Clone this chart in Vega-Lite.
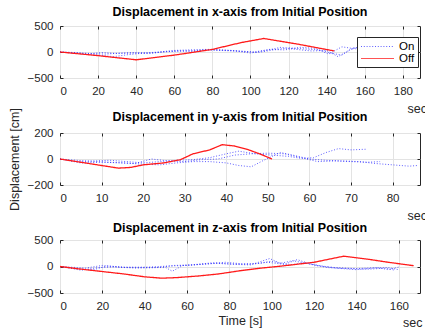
{
  "$schema": "https://vega.github.io/schema/vega-lite/v6.json",
  "padding": {"left": 7, "top": 5, "right": 0, "bottom": 0},
  "background": "white",
  "datasets": {
    "x_on": [
      {"t":0,"disp":0,"series":"On","trial":"A"},{"t":8,"disp":-10,"series":"On","trial":"A"},{"t":16,"disp":-30,"series":"On","trial":"A"},{"t":24,"disp":-40,"series":"On","trial":"A"},{"t":32,"disp":-20,"series":"On","trial":"A"},{"t":40,"disp":-10,"series":"On","trial":"A"},{"t":48,"disp":-20,"series":"On","trial":"A"},{"t":56,"disp":10,"series":"On","trial":"A"},{"t":64,"disp":20,"series":"On","trial":"A"},{"t":72,"disp":30,"series":"On","trial":"A"},{"t":80,"disp":40,"series":"On","trial":"A"},{"t":88,"disp":30,"series":"On","trial":"A"},{"t":96,"disp":10,"series":"On","trial":"A"},{"t":104,"disp":-10,"series":"On","trial":"A"},{"t":112,"disp":40,"series":"On","trial":"A"},{"t":120,"disp":80,"series":"On","trial":"A"},{"t":128,"disp":60,"series":"On","trial":"A"},{"t":136,"disp":40,"series":"On","trial":"A"},{"t":142,"disp":-20,"series":"On","trial":"A"},{"t":148,"disp":-60,"series":"On","trial":"A"},{"t":154,"disp":80,"series":"On","trial":"A"},{"t":160,"disp":100,"series":"On","trial":"A"},{"t":166,"disp":90,"series":"On","trial":"A"},
      {"t":0,"disp":0,"series":"On","trial":"B"},{"t":10,"disp":-20,"series":"On","trial":"B"},{"t":20,"disp":-60,"series":"On","trial":"B"},{"t":28,"disp":-90,"series":"On","trial":"B"},{"t":36,"disp":-50,"series":"On","trial":"B"},{"t":44,"disp":-20,"series":"On","trial":"B"},{"t":52,"disp":0,"series":"On","trial":"B"},{"t":60,"disp":30,"series":"On","trial":"B"},{"t":68,"disp":40,"series":"On","trial":"B"},{"t":76,"disp":50,"series":"On","trial":"B"},{"t":84,"disp":30,"series":"On","trial":"B"},{"t":92,"disp":20,"series":"On","trial":"B"},{"t":100,"disp":-20,"series":"On","trial":"B"},{"t":108,"disp":30,"series":"On","trial":"B"},{"t":116,"disp":90,"series":"On","trial":"B"},{"t":124,"disp":50,"series":"On","trial":"B"},{"t":132,"disp":20,"series":"On","trial":"B"},{"t":140,"disp":30,"series":"On","trial":"B"},{"t":146,"disp":-90,"series":"On","trial":"B"},{"t":152,"disp":40,"series":"On","trial":"B"},{"t":158,"disp":110,"series":"On","trial":"B"},
      {"t":0,"disp":0,"series":"On","trial":"C"},{"t":6,"disp":-20,"series":"On","trial":"C"},{"t":14,"disp":-40,"series":"On","trial":"C"},{"t":22,"disp":-10,"series":"On","trial":"C"},{"t":30,"disp":-30,"series":"On","trial":"C"},{"t":38,"disp":-20,"series":"On","trial":"C"},{"t":46,"disp":-30,"series":"On","trial":"C"},{"t":54,"disp":0,"series":"On","trial":"C"},{"t":62,"disp":20,"series":"On","trial":"C"},{"t":70,"disp":10,"series":"On","trial":"C"},{"t":78,"disp":50,"series":"On","trial":"C"},{"t":86,"disp":40,"series":"On","trial":"C"},{"t":94,"disp":20,"series":"On","trial":"C"},{"t":102,"disp":0,"series":"On","trial":"C"},{"t":110,"disp":50,"series":"On","trial":"C"},{"t":118,"disp":40,"series":"On","trial":"C"},{"t":126,"disp":90,"series":"On","trial":"C"},{"t":134,"disp":70,"series":"On","trial":"C"},{"t":141,"disp":-40,"series":"On","trial":"C"},{"t":148,"disp":100,"series":"On","trial":"C"},{"t":155,"disp":60,"series":"On","trial":"C"},{"t":162,"disp":120,"series":"On","trial":"C"}
    ],
    "x_off": [
      {"t":0,"disp":0,"series":"Off","trial":"R"},{"t":20,"disp":-70,"series":"Off","trial":"R"},{"t":40,"disp":-150,"series":"Off","trial":"R"},{"t":60,"disp":-60,"series":"Off","trial":"R"},{"t":80,"disp":50,"series":"Off","trial":"R"},{"t":95,"disp":180,"series":"Off","trial":"R"},{"t":107,"disp":260,"series":"Off","trial":"R"},{"t":125,"disp":150,"series":"Off","trial":"R"},{"t":144,"disp":20,"series":"Off","trial":"R"}
    ],
    "y_on": [
      {"t":0,"disp":0,"series":"On","trial":"A"},{"t":4,"disp":-20,"series":"On","trial":"A"},{"t":8,"disp":-15,"series":"On","trial":"A"},{"t":12,"disp":-10,"series":"On","trial":"A"},{"t":16,"disp":-20,"series":"On","trial":"A"},{"t":20,"disp":-30,"series":"On","trial":"A"},{"t":24,"disp":-20,"series":"On","trial":"A"},{"t":28,"disp":-10,"series":"On","trial":"A"},{"t":32,"disp":-5,"series":"On","trial":"A"},{"t":36,"disp":10,"series":"On","trial":"A"},{"t":40,"disp":40,"series":"On","trial":"A"},{"t":43,"disp":60,"series":"On","trial":"A"},{"t":47,"disp":40,"series":"On","trial":"A"},{"t":51,"disp":30,"series":"On","trial":"A"},{"t":55,"disp":20,"series":"On","trial":"A"},{"t":58,"disp":5,"series":"On","trial":"A"},{"t":61,"disp":10,"series":"On","trial":"A"},{"t":64,"disp":50,"series":"On","trial":"A"},{"t":67,"disp":80,"series":"On","trial":"A"},{"t":70,"disp":70,"series":"On","trial":"A"},{"t":73.5,"disp":75,"series":"On","trial":"A"},
      {"t":0,"disp":0,"series":"On","trial":"B"},{"t":5,"disp":-30,"series":"On","trial":"B"},{"t":10,"disp":-25,"series":"On","trial":"B"},{"t":15,"disp":-30,"series":"On","trial":"B"},{"t":20,"disp":-40,"series":"On","trial":"B"},{"t":24,"disp":-45,"series":"On","trial":"B"},{"t":28,"disp":-30,"series":"On","trial":"B"},{"t":32,"disp":-20,"series":"On","trial":"B"},{"t":36,"disp":-20,"series":"On","trial":"B"},{"t":40,"disp":-30,"series":"On","trial":"B"},{"t":43,"disp":-50,"series":"On","trial":"B"},{"t":46,"disp":-60,"series":"On","trial":"B"},{"t":49,"disp":-10,"series":"On","trial":"B"},{"t":53,"disp":50,"series":"On","trial":"B"},{"t":56,"disp":30,"series":"On","trial":"B"},{"t":60,"disp":0,"series":"On","trial":"B"},{"t":64,"disp":-10,"series":"On","trial":"B"},{"t":68,"disp":-15,"series":"On","trial":"B"},{"t":72,"disp":-20,"series":"On","trial":"B"},{"t":76,"disp":-35,"series":"On","trial":"B"},{"t":80,"disp":-45,"series":"On","trial":"B"},{"t":84,"disp":-55,"series":"On","trial":"B"},{"t":86,"disp":-50,"series":"On","trial":"B"},
      {"t":0,"disp":0,"series":"On","trial":"C"},{"t":6,"disp":-15,"series":"On","trial":"C"},{"t":12,"disp":-25,"series":"On","trial":"C"},{"t":18,"disp":-35,"series":"On","trial":"C"},{"t":22,"disp":0,"series":"On","trial":"C"},{"t":26,"disp":-15,"series":"On","trial":"C"},{"t":30,"disp":-20,"series":"On","trial":"C"},{"t":34,"disp":-5,"series":"On","trial":"C"},{"t":38,"disp":0,"series":"On","trial":"C"},{"t":42,"disp":30,"series":"On","trial":"C"},{"t":46,"disp":40,"series":"On","trial":"C"},{"t":50,"disp":45,"series":"On","trial":"C"},{"t":54,"disp":40,"series":"On","trial":"C"},{"t":58,"disp":10,"series":"On","trial":"C"},{"t":62,"disp":-20,"series":"On","trial":"C"},{"t":66,"disp":-15,"series":"On","trial":"C"},{"t":70,"disp":-20,"series":"On","trial":"C"},{"t":74,"disp":-25,"series":"On","trial":"C"},{"t":77,"disp":-20,"series":"On","trial":"C"}
    ],
    "y_off": [
      {"t":0,"disp":0,"series":"Off","trial":"R"},{"t":5,"disp":-25,"series":"Off","trial":"R"},{"t":10,"disp":-50,"series":"Off","trial":"R"},{"t":14,"disp":-70,"series":"Off","trial":"R"},{"t":17,"disp":-65,"series":"Off","trial":"R"},{"t":20,"disp":-45,"series":"Off","trial":"R"},{"t":25,"disp":-30,"series":"Off","trial":"R"},{"t":29,"disp":-5,"series":"Off","trial":"R"},{"t":32,"disp":40,"series":"Off","trial":"R"},{"t":36,"disp":70,"series":"Off","trial":"R"},{"t":39,"disp":110,"series":"Off","trial":"R"},{"t":42,"disp":100,"series":"Off","trial":"R"},{"t":45,"disp":75,"series":"Off","trial":"R"},{"t":48,"disp":40,"series":"Off","trial":"R"},{"t":51,"disp":0,"series":"Off","trial":"R"}
    ],
    "z_on": [
      {"t":0,"disp":0,"series":"On","trial":"A"},{"t":8,"disp":-40,"series":"On","trial":"A"},{"t":16,"disp":-60,"series":"On","trial":"A"},{"t":22,"disp":10,"series":"On","trial":"A"},{"t":30,"disp":-10,"series":"On","trial":"A"},{"t":40,"disp":-20,"series":"On","trial":"A"},{"t":50,"disp":-20,"series":"On","trial":"A"},{"t":53,"disp":-90,"series":"On","trial":"A"},{"t":58,"disp":20,"series":"On","trial":"A"},{"t":66,"disp":40,"series":"On","trial":"A"},{"t":74,"disp":60,"series":"On","trial":"A"},{"t":82,"disp":40,"series":"On","trial":"A"},{"t":90,"disp":30,"series":"On","trial":"A"},{"t":99,"disp":150,"series":"On","trial":"A"},{"t":104,"disp":60,"series":"On","trial":"A"},{"t":110,"disp":110,"series":"On","trial":"A"},{"t":116,"disp":60,"series":"On","trial":"A"},{"t":122,"disp":10,"series":"On","trial":"A"},{"t":130,"disp":-20,"series":"On","trial":"A"},{"t":140,"disp":-40,"series":"On","trial":"A"},{"t":150,"disp":-20,"series":"On","trial":"A"},{"t":155,"disp":-60,"series":"On","trial":"A"},{"t":160,"disp":-10,"series":"On","trial":"A"},
      {"t":0,"disp":0,"series":"On","trial":"B"},{"t":10,"disp":-70,"series":"On","trial":"B"},{"t":18,"disp":-20,"series":"On","trial":"B"},{"t":26,"disp":-10,"series":"On","trial":"B"},{"t":36,"disp":-30,"series":"On","trial":"B"},{"t":46,"disp":-20,"series":"On","trial":"B"},{"t":54,"disp":20,"series":"On","trial":"B"},{"t":62,"disp":30,"series":"On","trial":"B"},{"t":72,"disp":70,"series":"On","trial":"B"},{"t":80,"disp":50,"series":"On","trial":"B"},{"t":90,"disp":40,"series":"On","trial":"B"},{"t":98,"disp":80,"series":"On","trial":"B"},{"t":106,"disp":40,"series":"On","trial":"B"},{"t":112,"disp":130,"series":"On","trial":"B"},{"t":118,"disp":50,"series":"On","trial":"B"},{"t":126,"disp":-20,"series":"On","trial":"B"},{"t":136,"disp":-40,"series":"On","trial":"B"},{"t":146,"disp":-50,"series":"On","trial":"B"},{"t":154,"disp":-30,"series":"On","trial":"B"},{"t":158,"disp":-70,"series":"On","trial":"B"},
      {"t":0,"disp":0,"series":"On","trial":"C"},{"t":12,"disp":-30,"series":"On","trial":"C"},{"t":20,"disp":20,"series":"On","trial":"C"},{"t":30,"disp":-20,"series":"On","trial":"C"},{"t":42,"disp":-10,"series":"On","trial":"C"},{"t":52,"disp":10,"series":"On","trial":"C"},{"t":60,"disp":20,"series":"On","trial":"C"},{"t":70,"disp":50,"series":"On","trial":"C"},{"t":78,"disp":80,"series":"On","trial":"C"},{"t":86,"disp":50,"series":"On","trial":"C"},{"t":94,"disp":60,"series":"On","trial":"C"},{"t":100,"disp":100,"series":"On","trial":"C"},{"t":108,"disp":30,"series":"On","trial":"C"},{"t":116,"disp":70,"series":"On","trial":"C"},{"t":122,"disp":20,"series":"On","trial":"C"},{"t":130,"disp":-30,"series":"On","trial":"C"},{"t":140,"disp":-60,"series":"On","trial":"C"},{"t":148,"disp":-30,"series":"On","trial":"C"},{"t":155,"disp":-20,"series":"On","trial":"C"},{"t":160,"disp":-60,"series":"On","trial":"C"}
    ],
    "z_off": [
      {"t":0,"disp":0,"series":"Off","trial":"R"},{"t":10,"disp":-50,"series":"Off","trial":"R"},{"t":20,"disp":-95,"series":"Off","trial":"R"},{"t":30,"disp":-140,"series":"Off","trial":"R"},{"t":40,"disp":-195,"series":"Off","trial":"R"},{"t":48,"disp":-220,"series":"Off","trial":"R"},{"t":55,"disp":-210,"series":"Off","trial":"R"},{"t":65,"disp":-180,"series":"Off","trial":"R"},{"t":75,"disp":-140,"series":"Off","trial":"R"},{"t":85,"disp":-80,"series":"Off","trial":"R"},{"t":95,"disp":-30,"series":"Off","trial":"R"},{"t":105,"disp":10,"series":"Off","trial":"R"},{"t":120,"disp":80,"series":"Off","trial":"R"},{"t":134,"disp":195,"series":"Off","trial":"R"},{"t":145,"disp":140,"series":"Off","trial":"R"},{"t":155,"disp":80,"series":"Off","trial":"R"},{"t":167,"disp":15,"series":"Off","trial":"R"}
    ]
  },
  "vconcat": [
    {
      "width": 360, "height": 52,
      "title": {"text": "Displacement in x-axis from Initial Position", "offset": 2},
      "layer": [
        {
          "data": {"name": "x_on"},
          "mark": {"type": "line", "strokeWidth": 1, "opacity": 0.75},
          "encoding": {
            "x": {"field": "t", "type": "quantitative", "scale": {"domain": [0, 189], "nice": false, "zero": false},
                  "axis": {"orient": "bottom", "values": [0,20,40,60,80,100,120,140,160,180], "title": "sec", "titleX": 347, "titleY": 24, "titleAlign": "left", "titleBaseline": "top"}},
            "y": {"field": "disp", "type": "quantitative", "scale": {"domain": [-500, 500], "nice": false},
                  "axis": {"values": [-500, 0, 500], "title": null}},
            "color": {"field": "series", "type": "nominal", "scale": {"domain": ["On", "Off"], "range": ["#2a2aff", "#ff1a1a"]},
                      "legend": {"orient": "none", "legendX": 297, "legendY": 11, "title": null, "strokeColor": "#262626", "fillColor": "white", "padding": 3, "symbolType": "M-1,0H5", "symbolSize": 121, "symbolStrokeWidth": 1.2, "labelOffset": 26, "rowPadding": 0, "labelFontSize": 11.5, "labelColor": "black", "labelFont": "Liberation Sans",
                                 "encode": {"symbols": {"update": {"stroke": {"signal": "datum.value === 'On' ? '#5555ff' : '#ff1a1a'"}, "strokeDash": {"signal": "datum.value === 'On' ? [1.5, 1.5] : [1, 0]"}}}}}},
            "strokeDash": {"field": "series", "type": "nominal", "scale": {"domain": ["On", "Off"], "range": [[1, 1.8], [1, 0]]}, "legend": null},
            "detail": {"field": "trial", "type": "nominal"}
          }
        },
        {
          "data": {"name": "x_off"},
          "mark": {"type": "line", "strokeWidth": 1.3},
          "encoding": {
            "x": {"field": "t", "type": "quantitative", "axis": {"orient": "top", "labels": false, "title": null, "grid": false, "values": [0,20,40,60,80,100,120,140,160,180]}},
            "y": {"field": "disp", "type": "quantitative", "axis": {"orient": "right", "labels": false, "title": null, "grid": false, "values": [-500, 0, 500]}},
            "color": {"field": "series", "type": "nominal"},
            "strokeDash": {"field": "series", "type": "nominal", "legend": null}
          }
        }
      ],
      "resolve": {"axis": {"x": "independent", "y": "independent"}}
    },
    {
      "width": 360, "height": 52,
      "title": {"text": "Displacement in y-axis from Initial Position", "offset": -16},
      "layer": [
        {
          "data": {"name": "y_on"},
          "mark": {"type": "line", "strokeWidth": 1, "opacity": 0.75},
          "encoding": {
            "x": {"field": "t", "type": "quantitative", "scale": {"domain": [0, 86.6], "nice": false, "zero": false},
                  "axis": {"orient": "bottom", "values": [0,10,20,30,40,50,60,70,80], "title": "sec", "titleX": 347, "titleY": 24, "titleAlign": "left", "titleBaseline": "top"}},
            "y": {"field": "disp", "type": "quantitative", "scale": {"domain": [-200, 200], "nice": false},
                  "axis": {"values": [-200, 0, 200], "title": "Displacement [cm]", "titlePadding": 6}},
            "color": {"field": "series", "type": "nominal", "scale": {"domain": ["On", "Off"], "range": ["#2a2aff", "#ff1a1a"]}, "legend": null},
            "strokeDash": {"field": "series", "type": "nominal", "scale": {"domain": ["On", "Off"], "range": [[1, 1.8], [1, 0]]}, "legend": null},
            "detail": {"field": "trial", "type": "nominal"}
          }
        },
        {
          "data": {"name": "y_off"},
          "mark": {"type": "line", "strokeWidth": 1.3},
          "encoding": {
            "x": {"field": "t", "type": "quantitative", "axis": {"orient": "top", "labels": false, "title": null, "grid": false, "values": [0,10,20,30,40,50,60,70,80]}},
            "y": {"field": "disp", "type": "quantitative", "axis": {"orient": "right", "labels": false, "title": null, "grid": false, "values": [-200, 0, 200]}},
            "color": {"field": "series", "type": "nominal", "legend": null},
            "strokeDash": {"field": "series", "type": "nominal", "legend": null}
          }
        }
      ],
      "resolve": {"axis": {"x": "independent", "y": "independent"}}
    },
    {
      "width": 360, "height": 53,
      "title": {"text": "Displacement in z-axis from Initial Position", "offset": 0},
      "layer": [
        {
          "data": {"name": "z_on"},
          "mark": {"type": "line", "strokeWidth": 1, "opacity": 0.75},
          "encoding": {
            "x": {"field": "t", "type": "quantitative", "scale": {"domain": [0, 170], "nice": false, "zero": false},
                  "axis": {"orient": "bottom", "values": [0,20,40,60,80,100,120,140,160], "title": "Time [s]", "titlePadding": 3}},
            "y": {"field": "disp", "type": "quantitative", "scale": {"domain": [-500, 500], "nice": false},
                  "axis": {"values": [-500, 0, 500], "title": null}},
            "color": {"field": "series", "type": "nominal", "scale": {"domain": ["On", "Off"], "range": ["#2a2aff", "#ff1a1a"]}, "legend": null},
            "strokeDash": {"field": "series", "type": "nominal", "scale": {"domain": ["On", "Off"], "range": [[1, 1.8], [1, 0]]}, "legend": null},
            "detail": {"field": "trial", "type": "nominal"}
          }
        },
        {
          "data": {"name": "z_off"},
          "mark": {"type": "line", "strokeWidth": 1.3},
          "encoding": {
            "x": {"field": "t", "type": "quantitative", "axis": {"orient": "top", "labels": false, "title": null, "grid": false, "values": [0,20,40,60,80,100,120,140,160]}},
            "y": {"field": "disp", "type": "quantitative", "axis": {"orient": "right", "labels": false, "title": null, "grid": false, "values": [-500, 0, 500]}},
            "color": {"field": "series", "type": "nominal", "legend": null},
            "strokeDash": {"field": "series", "type": "nominal", "legend": null}
          }
        },
        {
          "data": {"values": [{"label": "sec", "t": 162, "disp": -500}]},
          "mark": {"type": "text", "align": "left", "baseline": "middle", "dy": 30, "font": "Liberation Sans", "fontSize": 12.5, "color": "#262626"},
          "encoding": {
            "x": {"field": "t", "type": "quantitative", "axis": null},
            "y": {"field": "disp", "type": "quantitative", "axis": null},
            "text": {"field": "label"}
          }
        }
      ],
      "resolve": {"axis": {"x": "independent", "y": "independent"}}
    }
  ],
  "resolve": {"scale": {"color": "independent", "strokeDash": "independent"}},
  "bounds": "flush",
  "spacing": 55,
  "config": {
    "font": "Liberation Sans",
    "view": {"stroke": "#262626", "strokeWidth": 1},
    "axis": {"domain": false, "labelFont": "Liberation Sans", "labelFontSize": 11.5, "labelColor": "#262626", "tickColor": "#262626", "tickSize": -3, "labelPadding": 10, "gridColor": "#e3e3e3", "titleFont": "Liberation Sans", "titleFontSize": 12.5, "titleFontWeight": "normal", "titleColor": "#262626"},
    "title": {"font": "Liberation Sans", "fontSize": 12.5, "fontWeight": "bold", "color": "black"}
  }
}
